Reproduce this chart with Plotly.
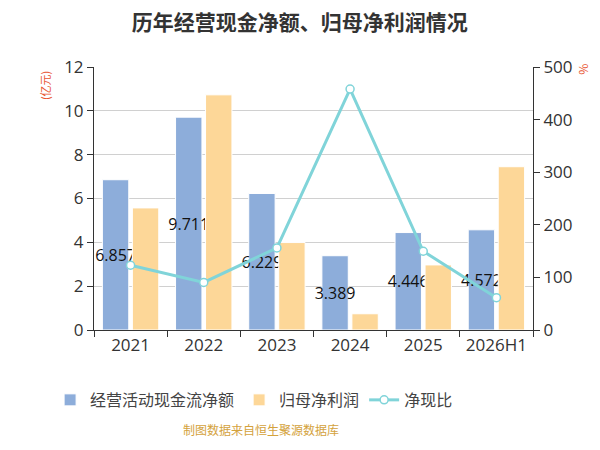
import plotly.graph_objects as go

# dados
anos = ["2021", "2022", "2023", "2024", "2025", "2026H1"]
caixa_operacional = [6.857, 9.711, 6.229, 3.389, 4.446, 4.572]
lucro_liquido = [5.57, 10.73, 3.99, 0.74, 2.97, 7.45]
razao_caixa = [123.1, 90.5, 156.1, 458.0, 149.7, 61.4]

FONTE = "Open Sans, Noto Sans CJK SC"
CJK = "Noto Sans CJK SC"

fig = go.Figure()

fig.add_trace(
    go.Bar(
        name="经营活动现金流净额",
        x=anos,
        y=caixa_operacional,
        marker=dict(color="#8dadda", line=dict(color="white", width=1)),
        text=[f"{v:.3f}" for v in caixa_operacional],
        textposition="inside",
        insidetextanchor="middle",
        textangle=0,
        constraintext="none",
        textfont=dict(color="#111", size=16, family=FONTE),
        cliponaxis=False,
    )
)
fig.add_trace(
    go.Bar(
        name="归母净利润",
        x=anos,
        y=lucro_liquido,
        marker=dict(color="#fdd798", line=dict(color="white", width=1)),
    )
)
fig.add_trace(
    go.Scatter(
        name="净现比",
        x=anos,
        y=razao_caixa,
        yaxis="y2",
        mode="lines+markers",
        line=dict(color="#80d4d9", width=3),
        marker=dict(size=8, color="white", line=dict(color="#80d4d9", width=1.5)),
    )
)

# a página tem 8px de margem no body: a figura fica com 592x442 para caber
fig.update_layout(
    width=592,
    height=442,
    margin=dict(l=86, r=67, t=59, b=120),
    paper_bgcolor="white",
    plot_bgcolor="white",
    font=dict(family=FONTE, color="#333"),
    title=dict(
        text="<b>历年经营现金净额、归母净利润情况</b>",
        x=0.493,
        xanchor="center",
        y=1,
        yanchor="top",
        pad=dict(t=7),
        font=dict(size=21, family=CJK, color="#333"),
    ),
    barmode="group",
    bargap=0.18,
    bargroupgap=0.12,
    xaxis=dict(
        showline=True,
        linecolor="#333",
        ticks="outside",
        tickson="boundaries",
        ticklen=6,
        tickcolor="#333",
        tickfont=dict(size=17),
    ),
    yaxis=dict(
        range=[0, 12],
        dtick=2,
        showgrid=True,
        gridcolor="#d0d0d0",
        showline=True,
        linecolor="#333",
        ticks="outside",
        ticklen=6,
        tickcolor="#333",
        tickfont=dict(size=17),
        zeroline=False,
    ),
    yaxis2=dict(
        overlaying="y",
        side="right",
        range=[0, 500],
        dtick=100,
        showgrid=False,
        showline=True,
        linecolor="#333",
        ticks="outside",
        ticklen=6,
        tickcolor="#333",
        tickfont=dict(size=17),
        zeroline=False,
    ),
    legend=dict(
        orientation="h",
        x=-0.1,
        xanchor="left",
        y=-0.266,
        yanchor="middle",
        font=dict(size=16, family=CJK, color="#444"),
    ),
    showlegend=True,
)

# títulos dos eixos e rodapé
fig.add_annotation(
    text="(亿元)", xref="paper", yref="paper", x=-0.11, y=0.93,
    xanchor="center", yanchor="middle",
    showarrow=False, textangle=-90, font=dict(size=11, color="#e8552f", family=CJK),
)
fig.add_annotation(
    text="%", xref="paper", yref="paper", x=1.112, y=0.99,
    xanchor="center", yanchor="middle",
    showarrow=False, textangle=-90, font=dict(size=12, color="#e8552f", family=CJK),
)
fig.add_annotation(
    text="制图数据来自恒生聚源数据库", xref="paper", yref="paper", x=0.38, y=-0.418,
    showarrow=False, font=dict(size=12, color="#d4a23c", family=CJK),
)

fig.write_html("out.html")
